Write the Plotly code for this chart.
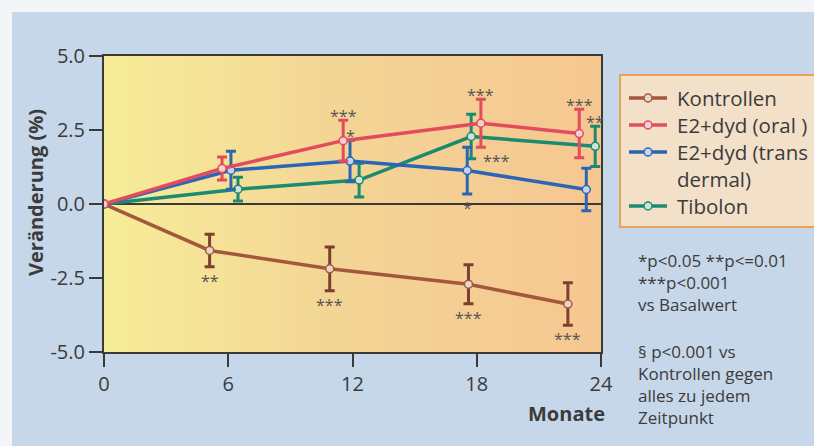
import plotly.graph_objects as go

# ---------------- data ----------------
series_names = ["Kontrollen", "E2+dyd (oral )", "E2+dyd (trans", "Tibolon"]
series_name_cont = ["", "", "dermal)", ""]
series_colors = ["#a5573c", "#e24c5c", "#2b66b6", "#1b8a6e"]

kontrollen_x = [0, 5.1, 10.9, 17.6, 22.4]
kontrollen_y = [0, -1.57, -2.19, -2.71, -3.38]
kontrollen_err = [None, 0.55, 0.74, 0.66, 0.72]
kontrollen_stars = ["", "**", "***", "***", "***"]

oral_x = [0, 5.7, 11.55, 18.2, 22.95]
oral_y = [0, 1.2, 2.14, 2.73, 2.38]
oral_err = [None, 0.39, 0.69, 0.81, 0.82]
oral_stars = ["", "", "***", "***", "***"]

trans_x = [0, 6.13, 11.88, 17.54, 23.29]
trans_y = [0, 1.14, 1.45, 1.13, 0.49]
trans_err = [None, 0.64, 0.7, 0.79, 0.72]
trans_stars = ["", "", "*", "*", ""]

tibolon_x = [0, 6.47, 12.32, 17.73, 23.72]
tibolon_y = [0, 0.5, 0.81, 2.28, 1.95]
tibolon_err = [None, 0.4, 0.57, 0.75, 0.68]
tibolon_stars = ["", "", "", "***", "**"]

x_ticks = [0, 6, 12, 18, 24]
y_ticks = [-5.0, -2.5, 0.0, 2.5, 5.0]
y_ticklabels = ["-5.0", "-2.5", "0.0", "2.5", "5.0"]

y_title = "Veränderung (%)"
x_title = "Monate"
note_1 = "*p<0.05 **p<=0.01<br>***p<0.001<br>vs Basalwert"
note_2 = "§ p<0.001 vs<br>Kontrollen gegen<br>alles zu jedem<br>Zeitpunkt"

# ---------------- figure ----------------
FONT = "Open Sans, Noto Sans, sans-serif"
TXT = "#3b3b3b"

W, H = 814, 446
ML, MR, MT, MB = 104, 213, 56, 94
PW, PH = W - ML - MR, H - MT - MB


def px_x(px):  # pixel -> paper x
    return (px - ML) / PW


def px_y(py):  # pixel -> paper y
    return 1 - (py - MT) / PH


xs = [kontrollen_x, oral_x, trans_x, tibolon_x]
ys = [kontrollen_y, oral_y, trans_y, tibolon_y]
errs = [kontrollen_err, oral_err, trans_err, tibolon_err]
stars = [kontrollen_stars, oral_stars, trans_stars, tibolon_stars]
err_colors = ["#7d3f2e", "#e24c5c", "#2b66b6", "#1b8a6e"]
marker_fill = ["#e6d8c8", "#f0d0d0", "#c8d4ea", "#cfe2d6"]

fig = go.Figure()


def lerp(c1, c2, t):
    return tuple(round(a + (b - a) * t) for a, b in zip(c1, c2))


shapes = []
# page: white edge strip + blue board
shapes.append(dict(type="rect", xref="paper", yref="paper",
                   x0=px_x(12), x1=px_x(W + 50), y0=px_y(H + 50), y1=px_y(12),
                   fillcolor="#c6d7ea", line=dict(width=0), layer="below"))

# gradient plot background (yellow -> peach)
stops = [(0.0, (247, 237, 152)), (0.45, (243, 214, 150)), (1.0, (246, 198, 145))]
N = 60
for i in range(N):
    t = (i + 0.5) / N
    for (p0, c0), (p1, c1) in zip(stops[:-1], stops[1:]):
        if p0 <= t <= p1:
            c = lerp(c0, c1, (t - p0) / (p1 - p0))
            break
    shapes.append(dict(type="rect", xref="x domain", yref="y domain",
                       x0=i / N, x1=(i + 1) / N + 0.002, y0=0, y1=1,
                       fillcolor="rgb(%d,%d,%d)" % c, line=dict(width=0), layer="below"))

draw_order = [0, 3, 2, 1]
for k in draw_order:
    fig.add_trace(go.Scatter(
        x=xs[k], y=ys[k], mode="lines+markers", name=series_names[k] + series_name_cont[k],
        line=dict(color=series_colors[k], width=3.5),
        marker=dict(symbol="circle", size=8, color=marker_fill[k],
                    line=dict(color=series_colors[k], width=1.5)),
        error_y=dict(type="data", array=errs[k], symmetric=True, visible=True,
                     color=err_colors[k], thickness=3, width=5),
        showlegend=False,
    ))

annotations = []
# significance stars
placement = {(3, 3): "right", (2, 3): "below"}
for k in range(4):
    for i, s in enumerate(stars[k]):
        if not s:
            continue
        v, e = ys[k][i], errs[k][i] or 0
        side = placement.get((k, i), "above" if v >= 0 else "below")
        if side == "right":
            annotations.append(dict(x=xs[k][i], y=v - e, text=s, showarrow=False,
                                    xanchor="left", yanchor="middle", xshift=10, yshift=-2,
                                    font=dict(size=16, color="#555", family=FONT)))
        elif side == "above":
            annotations.append(dict(x=xs[k][i], y=v + e, text=s, showarrow=False,
                                    xanchor="center", yanchor="middle", yshift=4,
                                    font=dict(size=16, color="#555", family=FONT)))
        else:
            annotations.append(dict(x=xs[k][i], y=v - e, text=s, showarrow=False,
                                    xanchor="center", yanchor="middle", yshift=-14,
                                    font=dict(size=16, color="#555", family=FONT)))

# ---- legend box (drawn by hand to match the compact spacing) ----
shapes.append(dict(type="rect", xref="paper", yref="paper",
                   x0=px_x(620), x1=px_x(W + 20), y0=px_y(227), y1=px_y(75),
                   fillcolor="#f3e0c8", line=dict(color="#e8a25a", width=2), layer="above"))
legend_rows = [98, 125, 152, 206]
for k in range(4):
    yy = px_y(legend_rows[k])
    shapes.append(dict(type="line", xref="paper", yref="paper",
                       x0=px_x(629), x1=px_x(667), y0=yy, y1=yy,
                       line=dict(color=series_colors[k], width=3.5), layer="above"))
    shapes.append(dict(type="circle", xref="paper", yref="paper",
                       xsizemode="pixel", ysizemode="pixel",
                       xanchor=px_x(648), yanchor=yy, x0=-4, x1=4, y0=-4, y1=4,
                       fillcolor=marker_fill[k], line=dict(color=series_colors[k], width=1.5),
                       layer="above"))
    annotations.append(dict(xref="paper", yref="paper", x=px_x(675), y=yy,
                            text=series_names[k], showarrow=False, xanchor="left", yanchor="middle",
                            align="left", font=dict(size=20.5, color=TXT, family=FONT)))
    if series_name_cont[k]:
        annotations.append(dict(xref="paper", yref="paper", x=px_x(675), y=px_y(legend_rows[k] + 27),
                                text=series_name_cont[k], showarrow=False, xanchor="left",
                                yanchor="middle", align="left",
                                font=dict(size=20.5, color=TXT, family=FONT)))

annotations.append(dict(xref="paper", yref="paper", x=px_x(35), y=px_y(193), text="<b>%s</b>" % y_title,
                        textangle=-90, showarrow=False, xanchor="center", yanchor="middle",
                        font=dict(size=20, color=TXT, family=FONT)))
annotations.append(dict(xref="paper", yref="paper", x=px_x(607), y=px_y(413), text="<b>%s</b>" % x_title,
                        showarrow=False, xanchor="right", yanchor="middle",
                        font=dict(size=20, color=TXT, family=FONT)))
annotations.append(dict(xref="paper", yref="paper", x=px_x(636), y=px_y(247), text=note_1,
                        showarrow=False, xanchor="left", yanchor="top", align="left",
                        font=dict(size=17, color=TXT, family=FONT)))
annotations.append(dict(xref="paper", yref="paper", x=px_x(636), y=px_y(338), text=note_2,
                        showarrow=False, xanchor="left", yanchor="top", align="left",
                        font=dict(size=17, color=TXT, family=FONT)))

fig.update_layout(
    width=W, height=H,
    margin=dict(l=ML, r=MR, t=MT, b=MB, autoexpand=False),
    paper_bgcolor="#f4f5f6",
    plot_bgcolor="#f5dc98",
    font=dict(family=FONT, color=TXT),
    shapes=shapes,
    annotations=annotations,
    showlegend=False,
    xaxis=dict(range=[0, 24], tickvals=x_ticks, ticktext=[str(v) for v in x_ticks],
               showgrid=False, zeroline=False, showline=True, mirror=True,
               linecolor="#3a3a3a", linewidth=2, ticks="outside", ticklen=13,
               tickwidth=2, tickcolor="#3a3a3a",
               tickfont=dict(size=20, color=TXT, family=FONT)),
    yaxis=dict(range=[-5, 5], tickvals=y_ticks, ticktext=y_ticklabels,
               showgrid=False, zeroline=True, zerolinecolor="#3a3a3a", zerolinewidth=2,
               showline=True, mirror=True, linecolor="#3a3a3a", linewidth=2,
               ticks="outside", ticklen=13, tickwidth=2, tickcolor="#3a3a3a",
               tickfont=dict(size=20, color=TXT, family=FONT)),
)

fig.write_html("out.html")
